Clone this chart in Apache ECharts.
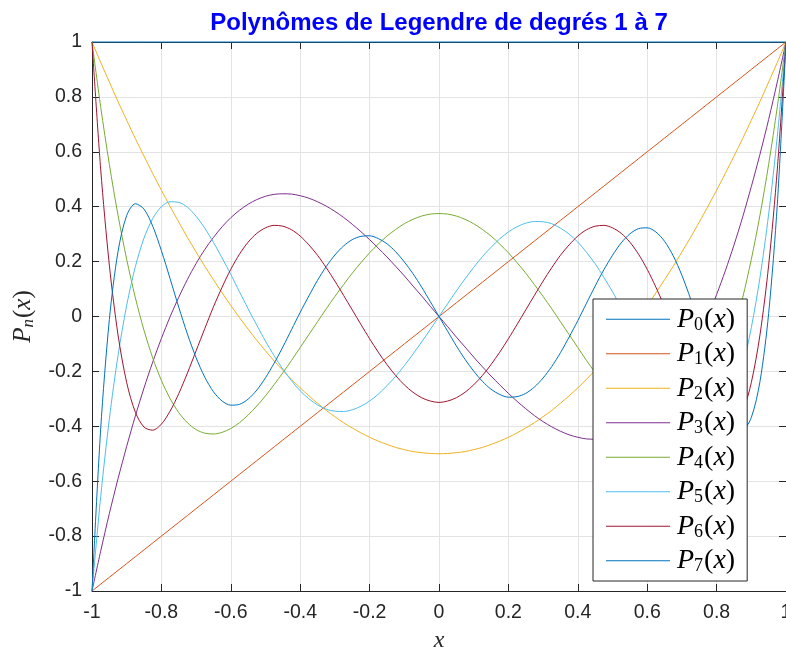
<!DOCTYPE html>
<html><head><meta charset="utf-8">
<script src="https://cdn.jsdelivr.net/npm/echarts@6/dist/echarts.min.js"></script>
<style>html,body{margin:0;padding:0;background:#fff}#c{width:786px;height:650px}</style>
</head><body><div id="c"></div>
<script>
const xs = [-1, -0.975, -0.95, -0.925, -0.9, -0.875, -0.85, -0.825, -0.8, -0.775, -0.75, -0.725, -0.7, -0.675, -0.65, -0.625, -0.6, -0.575, -0.55, -0.525,
  -0.5, -0.475, -0.45, -0.425, -0.4, -0.375, -0.35, -0.325, -0.3, -0.275, -0.25, -0.225, -0.2, -0.175, -0.15, -0.125, -0.1, -0.075, -0.05, -0.025,
  0, 0.025, 0.05, 0.075, 0.1, 0.125, 0.15, 0.175, 0.2, 0.225, 0.25, 0.275, 0.3, 0.325, 0.35, 0.375, 0.4, 0.425, 0.45, 0.475,
  0.5, 0.525, 0.55, 0.575, 0.6, 0.625, 0.65, 0.675, 0.7, 0.725, 0.75, 0.775, 0.8, 0.825, 0.85, 0.875, 0.9, 0.925, 0.95, 0.975, 1];
const P0 = [1, 1, 1, 1, 1, 1, 1, 1, 1, 1, 1, 1, 1, 1, 1, 1, 1, 1, 1, 1,
  1, 1, 1, 1, 1, 1, 1, 1, 1, 1, 1, 1, 1, 1, 1, 1, 1, 1, 1, 1,
  1, 1, 1, 1, 1, 1, 1, 1, 1, 1, 1, 1, 1, 1, 1, 1, 1, 1, 1, 1,
  1, 1, 1, 1, 1, 1, 1, 1, 1, 1, 1, 1, 1, 1, 1, 1, 1, 1, 1, 1, 1];
const P1 = [-1, -0.975, -0.95, -0.925, -0.9, -0.875, -0.85, -0.825, -0.8, -0.775, -0.75, -0.725, -0.7, -0.675, -0.65, -0.625, -0.6, -0.575, -0.55, -0.525,
  -0.5, -0.475, -0.45, -0.425, -0.4, -0.375, -0.35, -0.325, -0.3, -0.275, -0.25, -0.225, -0.2, -0.175, -0.15, -0.125, -0.1, -0.075, -0.05, -0.025,
  0, 0.025, 0.05, 0.075, 0.1, 0.125, 0.15, 0.175, 0.2, 0.225, 0.25, 0.275, 0.3, 0.325, 0.35, 0.375, 0.4, 0.425, 0.45, 0.475,
  0.5, 0.525, 0.55, 0.575, 0.6, 0.625, 0.65, 0.675, 0.7, 0.725, 0.75, 0.775, 0.8, 0.825, 0.85, 0.875, 0.9, 0.925, 0.95, 0.975, 1];
const P2 = [1, 0.926, 0.854, 0.783, 0.715, 0.648, 0.584, 0.521, 0.46, 0.401, 0.344, 0.288, 0.235, 0.183, 0.134, 0.086, 0.04, -0.004, -0.046, -0.087,
  -0.125, -0.162, -0.196, -0.229, -0.26, -0.289, -0.316, -0.342, -0.365, -0.387, -0.406, -0.424, -0.44, -0.454, -0.466, -0.477, -0.485, -0.492, -0.496, -0.499,
  -0.5, -0.499, -0.496, -0.492, -0.485, -0.477, -0.466, -0.454, -0.44, -0.424, -0.406, -0.387, -0.365, -0.342, -0.316, -0.289, -0.26, -0.229, -0.196, -0.162,
  -0.125, -0.087, -0.046, -0.004, 0.04, 0.086, 0.134, 0.183, 0.235, 0.288, 0.344, 0.401, 0.46, 0.521, 0.584, 0.648, 0.715, 0.783, 0.854, 0.926, 1];
const P3 = [-1, -0.855, -0.718, -0.591, -0.473, -0.362, -0.26, -0.166, -0.08, -0.001, 0.07, 0.135, 0.193, 0.244, 0.288, 0.327, 0.36, 0.387, 0.409, 0.426,
  0.438, 0.445, 0.447, 0.446, 0.44, 0.431, 0.418, 0.402, 0.383, 0.361, 0.336, 0.309, 0.28, 0.249, 0.217, 0.183, 0.148, 0.111, 0.075, 0.037,
  0, -0.037, -0.075, -0.111, -0.148, -0.183, -0.217, -0.249, -0.28, -0.309, -0.336, -0.361, -0.383, -0.402, -0.418, -0.431, -0.44, -0.446, -0.447, -0.445,
  -0.438, -0.426, -0.409, -0.387, -0.36, -0.327, -0.288, -0.244, -0.193, -0.135, -0.07, 0.001, 0.08, 0.166, 0.26, 0.362, 0.473, 0.591, 0.718, 0.855, 1];
const P4 = [1, 0.764, 0.554, 0.369, 0.208, 0.068, -0.051, -0.151, -0.233, -0.299, -0.35, -0.387, -0.412, -0.425, -0.428, -0.422, -0.408, -0.387, -0.359, -0.326,
  -0.289, -0.248, -0.205, -0.16, -0.113, -0.066, -0.019, 0.028, 0.073, 0.116, 0.158, 0.196, 0.232, 0.264, 0.293, 0.317, 0.338, 0.354, 0.366, 0.373,
  0.375, 0.373, 0.366, 0.354, 0.338, 0.317, 0.293, 0.264, 0.232, 0.196, 0.158, 0.116, 0.073, 0.028, -0.019, -0.066, -0.113, -0.16, -0.205, -0.248,
  -0.289, -0.326, -0.359, -0.387, -0.408, -0.422, -0.428, -0.425, -0.412, -0.387, -0.35, -0.299, -0.233, -0.151, -0.051, 0.068, 0.208, 0.369, 0.554, 0.764, 1];
const P5 = [-1, -0.657, -0.373, -0.142, 0.041, 0.182, 0.286, 0.357, 0.4, 0.418, 0.416, 0.398, 0.365, 0.322, 0.27, 0.213, 0.153, 0.09, 0.028, -0.032,
  -0.09, -0.143, -0.192, -0.234, -0.271, -0.3, -0.322, -0.338, -0.345, -0.346, -0.34, -0.327, -0.308, -0.283, -0.252, -0.218, -0.179, -0.137, -0.093, -0.047,
  0, 0.047, 0.093, 0.137, 0.179, 0.218, 0.252, 0.283, 0.308, 0.327, 0.34, 0.346, 0.345, 0.338, 0.322, 0.3, 0.271, 0.234, 0.192, 0.143,
  0.09, 0.032, -0.028, -0.09, -0.153, -0.213, -0.27, -0.322, -0.365, -0.398, -0.416, -0.418, -0.4, -0.357, -0.286, -0.182, -0.041, 0.142, 0.373, 0.657, 1];
const P6 = [1, 0.537, 0.187, -0.067, -0.241, -0.349, -0.403, -0.414, -0.392, -0.345, -0.281, -0.206, -0.125, -0.044, 0.035, 0.107, 0.172, 0.227, 0.271, 0.303,
  0.323, 0.332, 0.329, 0.316, 0.293, 0.261, 0.223, 0.178, 0.129, 0.077, 0.024, -0.029, -0.081, -0.13, -0.175, -0.215, -0.249, -0.276, -0.296, -0.308,
  -0.313, -0.308, -0.296, -0.276, -0.249, -0.215, -0.175, -0.13, -0.081, -0.029, 0.024, 0.077, 0.129, 0.178, 0.223, 0.261, 0.293, 0.316, 0.329, 0.332,
  0.323, 0.303, 0.271, 0.227, 0.172, 0.107, 0.035, -0.044, -0.125, -0.206, -0.281, -0.345, -0.392, -0.414, -0.403, -0.349, -0.241, -0.067, 0.187, 0.537, 1];
const P7 = [-1, -0.41, -0.011, 0.237, 0.368, 0.411, 0.391, 0.329, 0.24, 0.138, 0.034, -0.064, -0.15, -0.221, -0.274, -0.308, -0.323, -0.32, -0.301, -0.268,
  -0.223, -0.17, -0.111, -0.048, 0.015, 0.075, 0.132, 0.182, 0.224, 0.257, 0.28, 0.292, 0.294, 0.284, 0.265, 0.236, 0.199, 0.156, 0.107, 0.054,
  0, -0.054, -0.107, -0.156, -0.199, -0.236, -0.265, -0.284, -0.294, -0.292, -0.28, -0.257, -0.224, -0.182, -0.132, -0.075, -0.015, 0.048, 0.111, 0.17,
  0.223, 0.268, 0.301, 0.32, 0.323, 0.308, 0.274, 0.221, 0.15, 0.064, -0.034, -0.138, -0.24, -0.329, -0.391, -0.411, -0.368, -0.237, 0.011, 0.41, 1];
const seriesNames = ['P0(x)', 'P1(x)', 'P2(x)', 'P3(x)', 'P4(x)', 'P5(x)', 'P6(x)', 'P7(x)'];
const seriesValues = [P0, P1, P2, P3, P4, P5, P6, P7];
const colors = ['#0072BD', '#D95319', '#EDB120', '#7E2F8E', '#77AC30', '#4DBEEE', '#A2142F', '#0072BD'];
const titleText = 'Polynômes de Legendre de degrés 1 à 7';

const chart = echarts.init(document.getElementById('c'), null, {renderer: 'canvas'});
const axisCol = '#262626';
const gridCol = '#e3e3e3';
const serif = '"Liberation Serif", "DejaVu Serif", serif';
const sans = '"Liberation Sans", Arial, Helvetica, sans-serif';

const series = seriesNames.map((n, k) => ({
  name: n,
  type: 'line',
  data: xs.map((x, i) => [x, seriesValues[k][i]]),
  symbol: 'none',
  smooth: k >= 2 ? 0.3 : false,
  clip: k !== 0,
  lineStyle: {color: colors[k], width: 1},
  itemStyle: {color: colors[k]},
  z: 2 + k * 0.01
}));

chart.setOption({
  animation: false,
  backgroundColor: '#fff',
  title: {
    text: titleText, left: 434, top: 6, textAlign: 'center',
    textStyle: {color: '#0000FF', fontWeight: 'bold', fontSize: 24, fontFamily: sans}
  },
  grid: {left: 92, right: 0, top: 42, bottom: 59, containLabel: false, outerBoundsMode: 'none'},
  legend: {
    orient: 'vertical', left: 593, top: 299,
    padding: [3, 12, 3, 13], itemGap: 0,
    itemWidth: 64, itemHeight: 14,
    backgroundColor: '#fff', borderColor: '#262626', borderWidth: 1,
    data: seriesNames.map(n => ({name: n, icon: 'path://M0,0 L64,0 L64,1 L0,1 Z'})),
    formatter: name => '{i|P}{s|' + name.charAt(1) + '}{n|(}{i|x}{n|)}',
    textStyle: {
      color: '#000', fontFamily: serif, fontSize: 28, lineHeight: 34.5, padding: [0, 0, 0, 2],
      rich: {
        i: {fontFamily: serif, fontStyle: 'italic', fontSize: 28, color: '#000'},
        n: {fontFamily: serif, fontSize: 28, color: '#000'},
        s: {fontFamily: serif, fontSize: 18, color: '#000', padding: [12, 1, 0, 0]}
      }
    },
    z: 10
  },
  xAxis: [{
    type: 'value', min: -1, max: 1, interval: 0.2, position: 'bottom',
    name: 'x', nameLocation: 'middle', nameGap: 38,
    nameTextStyle: {fontFamily: serif, fontStyle: 'italic', fontSize: 24, color: axisCol},
    axisLine: {show: true, onZero: false, lineStyle: {color: axisCol, width: 1}},
    axisTick: {show: true, inside: true, length: 7, lineStyle: {color: axisCol}},
    axisLabel: {color: axisCol, fontSize: 19.5, fontFamily: sans, margin: 12},
    splitLine: {show: true, lineStyle: {color: gridCol, width: 1}}
  }, {
    type: 'value', min: -1, max: 1, interval: 0.2, position: 'top',
    axisLine: {show: true, onZero: false, lineStyle: {color: axisCol, width: 1}},
    axisTick: {show: true, inside: true, length: 7, lineStyle: {color: axisCol}},
    axisLabel: {show: false}, splitLine: {show: false}
  }],
  yAxis: [{
    type: 'value', min: -1, max: 1, interval: 0.2, position: 'left',
    name: '{i|P}{s|n}{n|(}{i|x}{n|)}', nameLocation: 'middle', nameGap: 54,
    nameTextStyle: {
      color: axisCol,
      rich: {
        i: {fontFamily: serif, fontStyle: 'italic', fontSize: 25, color: axisCol},
        n: {fontFamily: serif, fontSize: 25, color: axisCol},
        s: {fontFamily: serif, fontStyle: 'italic', fontSize: 17, color: axisCol, padding: [11, 1, 0, 0]}
      }
    },
    axisLine: {show: true, onZero: false, lineStyle: {color: axisCol, width: 1}},
    axisTick: {show: true, inside: true, length: 7, lineStyle: {color: axisCol}},
    axisLabel: {color: axisCol, fontSize: 19.5, fontFamily: sans, margin: 10},
    splitLine: {show: true, lineStyle: {color: gridCol, width: 1}}
  }, {
    type: 'value', min: -1, max: 1, interval: 0.2, position: 'right',
    axisLine: {show: true, onZero: false, lineStyle: {color: axisCol, width: 1}},
    axisTick: {show: true, inside: true, length: 7, lineStyle: {color: axisCol}},
    axisLabel: {show: false}, splitLine: {show: false}
  }],
  series: series
});
</script>
</body></html>
